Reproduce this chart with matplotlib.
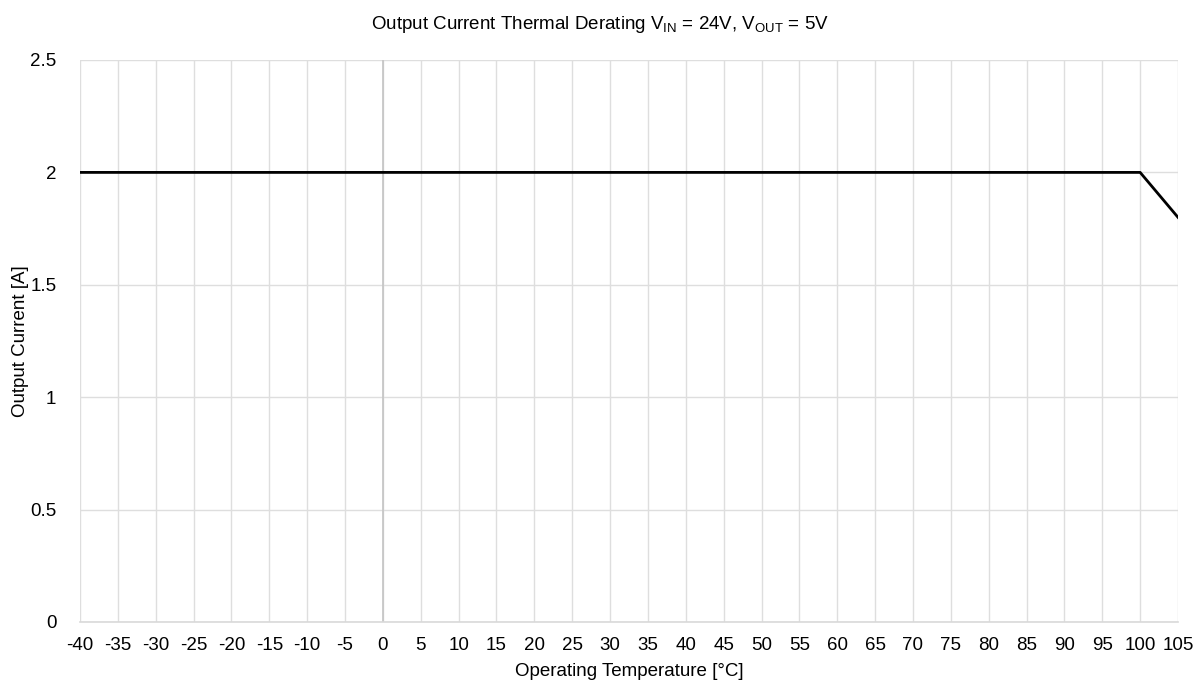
import matplotlib
matplotlib.use("Agg")
from matplotlib import pyplot as plt
import numpy as np

temperature = [-40, 100, 105]
current = [2.0, 2.0, 1.8]
x_ticks = list(range(-40, 106, 5))
y_ticks = [0, 0.5, 1, 1.5, 2, 2.5]

plt.rcParams['font.family'] = ['Liberation Sans', 'DejaVu Sans']
plt.rcParams['axes.unicode_minus'] = False
plt.rcParams['mathtext.fontset'] = 'custom'
plt.rcParams['mathtext.rm'] = 'Liberation Sans'

fig = plt.figure(figsize=(11.99, 6.9), dpi=100)
ax = fig.add_axes([80 / 1199, 1 - 622 / 690, (1178 - 80) / 1199, (622 - 60) / 690])

ax.plot(temperature, current, color='black', linewidth=2, zorder=3)

ax.set_xlim(-40, 105)
ax.set_ylim(0, 2.5)
ax.set_xticks(x_ticks)
ax.set_xticklabels([str(t) for t in x_ticks])
ax.set_yticks(y_ticks)
ax.set_yticklabels(['0', '0.5', '1', '1.5', '2', '2.5'])
ax.tick_params(axis='x', length=0, labelsize=13.5, pad=11)
ax.tick_params(axis='y', length=0, labelsize=13.5, pad=17)
ax.grid(True, color='#dedede', linewidth=1)
# darker line where temperature is zero
ax.axvline(0, color='#c4c4c4', linewidth=1.2, zorder=2)

for side in ['top', 'right', 'left']:
    ax.spines[side].set_visible(False)
ax.spines['bottom'].set_color('#d9d9d9')
ax.spines['bottom'].set_linewidth(1.2)

ax.set_xlabel('Operating Temperature [°C]', fontsize=13.5, labelpad=6)
ax.set_ylabel('Output Current [A]', fontsize=13.5)
ax.yaxis.set_label_coords(-0.046, 0.5)
fig.suptitle(r'Output Current Thermal Derating V$_{\mathregular{IN}}$ = 24V, V$_{\mathregular{OUT}}$ = 5V',
             fontsize=13.5, y=0.98)

fig.savefig('out.png', dpi=100)
